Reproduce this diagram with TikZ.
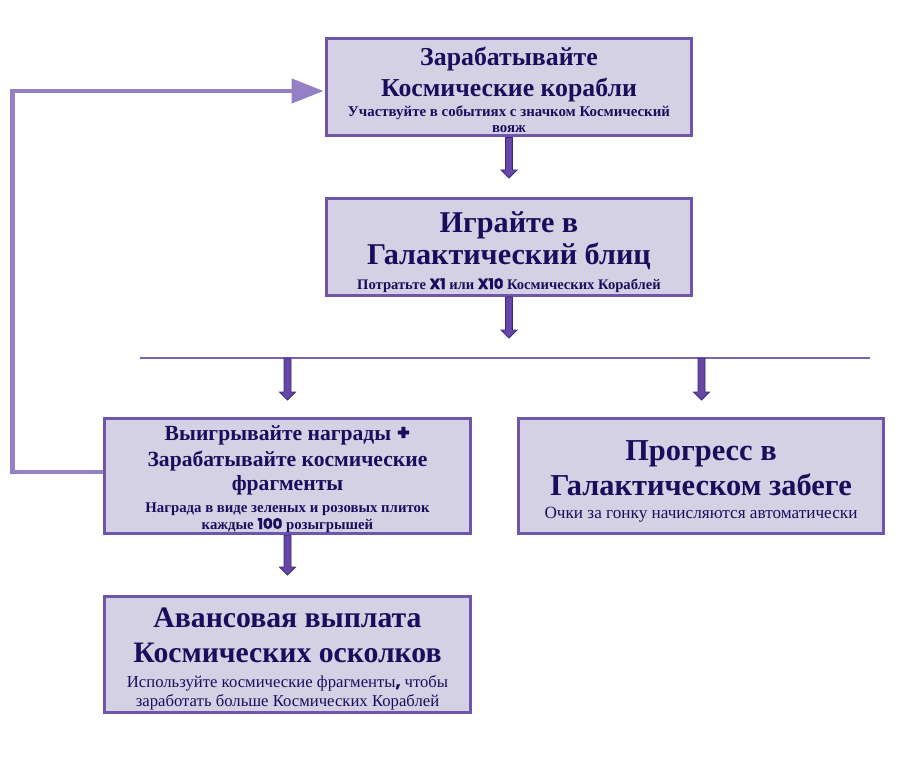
\documentclass[tikz,border=0pt]{standalone}
\usepackage{fontspec}
\setmainfont{Liberation Serif}
\newfontfamily\heavyfont[BoldFeatures={FakeBold=1.5}]{Poppins}
\usetikzlibrary{calc,arrows.meta}
\definecolor{boxfill}{HTML}{D4D1E4}
\definecolor{boxdraw}{HTML}{7055AD}
\definecolor{textc}{HTML}{1C0D5C}
\definecolor{arrfill}{HTML}{6647A8}
\definecolor{arrdraw}{HTML}{3B2A80}
\definecolor{loopc}{HTML}{9580C6}
\definecolor{linec}{HTML}{7A66B0}
\newcommand\fsb[1]{\bfseries\fontsize{#1}{#1}\selectfont}
\newcommand\fsr[1]{\fontsize{#1}{#1}\selectfont}
\newcommand\hv[1]{{\heavyfont\bfseries #1}}
\begin{document}
\begin{tikzpicture}[x=1pt,y=-1pt,
  box/.style={draw=boxdraw, fill=boxfill, line width=3pt, inner sep=0pt},
  txt/.style={anchor=base, text=textc, inner sep=0pt},
  blockarrow/.style={draw=arrdraw, fill=arrfill, line width=0.8pt, line join=miter,
    to path={let \p1=(\tikztostart), \p2=(\tikztotarget) in
      (\x1-3.5pt,\y1) -- (\x1+3.5pt,\y1) -- (\x1+3.5pt,\y2+8pt) -- (\x1+8pt,\y2+8pt)
      -- (\x2,\y2) -- (\x1-8pt,\y2+8pt) -- (\x1-3.5pt,\y2+8pt) -- cycle}},
  loopline/.style={draw=loopc, line width=4.5pt, -{Triangle[length=32pt,width=24pt]}}
]
\useasboundingbox (0,0) rectangle (913,770);

% boxes
\node[box, minimum width=365, minimum height=97] (earn) at (509,87.5) {};
\node[box, minimum width=365, minimum height=97] (play) at (509,247) {};
\node[box, minimum width=366, minimum height=115] (win) at (287.5,476) {};
\node[box, minimum width=365, minimum height=115] (race) at (701,476) {};
\node[box, minimum width=366, minimum height=116] (adv) at (287.5,654.5) {};

% texts: earn
\node[txt, font=\fsb{25.8}] (earn1) at (509,65.5) {Зарабатывайте};
\node[txt, font=\fsb{25.8}] (earn2) at (509,96.5) {Космические корабли};
\node[txt, font=\fsb{14.9}] (earn3) at (509,116.5) {Участвуйте в событиях с значком Космический};
\node[txt, font=\fsb{14.9}] (earn4) at (509,133) {вояж};

% play
\node[txt, font=\fsb{30.2}] (play1) at (509,233) {Играйте в};
\node[txt, font=\fsb{30.2}] (play2) at (509,265) {Галактический блиц};
\node[txt, font=\fsb{14.6}] (play3) at (509,289) {Потратьте \hv{X1} или \hv{X10} Космических Кораблей};

% win
\node[txt, font=\fsb{21.6}] (win1) at (287.5,440) {Выигрывайте награды \hv{+}};
\node[txt, font=\fsb{21.6}] (win2) at (287.5,466.5) {Зарабатывайте космические};
\node[txt, font=\fsb{21.6}] (win3) at (287.5,490) {фрагменты};
\node[txt, font=\fsb{14.8}] (win4) at (287.5,512) {Награда в виде зеленых и розовых плиток};
\node[txt, font=\fsb{14.8}] (win5) at (287.5,529) {каждые \hv{100} розыгрышей};

% race
\node[txt, font=\fsb{30.4}] (race1) at (701,460) {Прогресс в};
\node[txt, font=\fsb{30.4}] (race2) at (701,495) {Галактическом забеге};
\node[txt, font=\fsr{17.2}] (race3) at (701,518) {Очки за гонку начисляются автоматически};

% adv
\node[txt, font=\fsb{29.7}] (adv1) at (287.5,627) {Авансовая выплата};
\node[txt, font=\fsb{29.7}] (adv2) at (287.5,662) {Космических осколков};
\node[txt, font=\fsr{16.7}] (adv3) at (287.5,687) {Используйте космические фрагменты\hv{,} чтобы};
\node[txt, font=\fsr{16.7}] (adv4) at (287.5,706) {заработать больше Космических Кораблей};

% split line
\coordinate (splitL) at (140,358);
\coordinate (splitR) at (870,358);
\draw[linec, line width=1.2pt] (splitL) -- (splitR);
\coordinate (sA) at (287.5,358);
\coordinate (sB) at (701.5,358);

% arrow end points
\coordinate (e1) at (509,178);
\coordinate (e2) at (509,338);
\coordinate (e3) at (287.5,400);
\coordinate (e4) at (701.5,400);
\coordinate (e5) at (287.5,575);

\draw[blockarrow] (earn.south) to (e1);
\draw[blockarrow] (play.south) to (e2);
\draw[blockarrow] (sA) to (e3);
\draw[blockarrow] (sB) to (e4);
\draw[blockarrow] (win.south) to (e5);

% loop back
\coordinate (loopx) at (12.5,0);
\draw[loopline] ([yshift=4pt]win.west) -- ([yshift=4pt]win.west -| loopx) |- ([xshift=-1.5pt,yshift=-3.5pt]earn.west);
\end{tikzpicture}
\end{document}
